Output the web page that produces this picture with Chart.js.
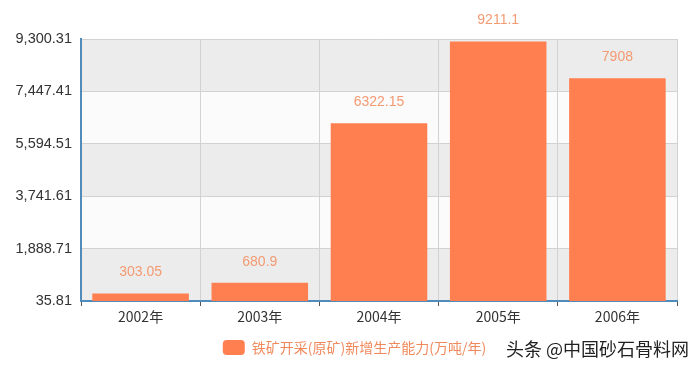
<!DOCTYPE html>
<html>
<head>
<meta charset="utf-8">
<script src="https://cdn.jsdelivr.net/npm/chart.js@4/dist/chart.umd.min.js"></script>
<style>
html,body{margin:0;padding:0;background:#fff;}
#wrap{width:700px;height:367px;position:relative;}
</style>
</head>
<body>
<div id="wrap"><canvas id="c" width="700" height="367"></canvas></div>
<script>
const categories = ['2002年','2003年','2004年','2005年','2006年'];
const seriesName = '铁矿开采(原矿)新增生产能力(万吨/年)';
const values = [303.05, 680.9, 6322.15, 9211.1, 7908];
const valueLabels = ['303.05','680.9','6322.15','9211.1','7908'];
const yTicks = [35.81, 1888.71, 3741.61, 5594.51, 7447.41, 9300.31];
const yTickLabels = ['35.81','1,888.71','3,741.61','5,594.51','7,447.41','9,300.31'];
const watermark = '头条 @中国砂石骨料网';

const FONT = '"Liberation Sans", Arial, sans-serif';
const CJK = '"Noto Sans CJK SC", "Liberation Sans", sans-serif';

const bandsPlugin = {
  id: 'bands',
  beforeDraw(chart) {
    const {ctx, chartArea, scales} = chart;
    const y = scales.y;
    ctx.save();
    for (let i = 0; i < yTicks.length - 1; i++) {
      const top = y.getPixelForValue(yTicks[i + 1]);
      const bot = y.getPixelForValue(yTicks[i]);
      ctx.fillStyle = (i % 2 === 0) ? '#ececec' : '#fbfbfb';
      ctx.fillRect(chartArea.left, top, chartArea.right - chartArea.left, bot - top);
    }
    ctx.restore();
  }
};

const labelsPlugin = {
  id: 'valueLabels',
  afterDatasetsDraw(chart) {
    const {ctx} = chart;
    const meta = chart.getDatasetMeta(0);
    ctx.save();
    ctx.fillStyle = '#f49a72';
    ctx.font = '14px ' + FONT;
    ctx.textAlign = 'center';
    ctx.textBaseline = 'middle';
    meta.data.forEach((bar, i) => {
      ctx.fillText(valueLabels[i], bar.x, bar.y - 21);
    });
    ctx.restore();
  }
};

const legendShiftPlugin = {
  id: 'legendShift',
  afterLayout(chart) {
    if (chart.legend) {
      chart.legend.left += 16;
      chart.legend.right += 16;
    }
  }
};

const watermarkPlugin = {
  id: 'watermark',
  afterDraw(chart) {
    const {ctx} = chart;
    ctx.save();
    ctx.fillStyle = '#222';
    ctx.font = '18px ' + CJK;
    ctx.textAlign = 'left';
    ctx.textBaseline = 'middle';
    ctx.fillText(watermark, 506, 349);
    ctx.restore();
  }
};

new Chart(document.getElementById('c'), {
  type: 'bar',
  data: {
    labels: categories,
    datasets: [{
      label: seriesName,
      data: values,
      backgroundColor: '#ff7f50',
      borderWidth: 0,
      categoryPercentage: 0.81,
      barPercentage: 1.0
    }]
  },
  options: {
    responsive: false,
    animation: false,
    devicePixelRatio: 1,
    layout: {padding: {top: 39, right: 23, left: 0, bottom: 2}},
    plugins: {
      legend: {
        position: 'bottom',
        align: 'center',
        labels: {
          boxWidth: 22,
          boxHeight: 15,
          useBorderRadius: true,
          borderRadius: 4,
          color: '#f08a5d',
          font: {family: CJK, size: 14},
          padding: 7
        }
      },
      tooltip: {enabled: false}
    },
    scales: {
      x: {
        grid: {
          color: '#d2d2d2',
          offset: true,
          drawTicks: true,
          tickLength: 5,
          tickColor: '#555'
        },
        border: {color: '#4f8bbb', width: 2},
        ticks: {color: '#333', font: {family: CJK, size: 14}, padding: 2},
        afterFit(scale) { scale.height = 32; }
      },
      y: {
        min: yTicks[0],
        max: yTicks[yTicks.length - 1],
        afterBuildTicks(scale) {
          scale.ticks = yTicks.map(v => ({value: v}));
        },
        grid: {color: '#d2d2d2', drawTicks: false},
        border: {color: '#4f8bbb', width: 2},
        ticks: {
          color: '#333',
          font: {family: FONT, size: 14.5},
          padding: 9,
          callback: (v, i) => yTickLabels[i]
        },
        afterFit(scale) { scale.width = 81; }
      }
    }
  },
  plugins: [bandsPlugin, labelsPlugin, legendShiftPlugin, watermarkPlugin]
});
</script>
</body>
</html>
